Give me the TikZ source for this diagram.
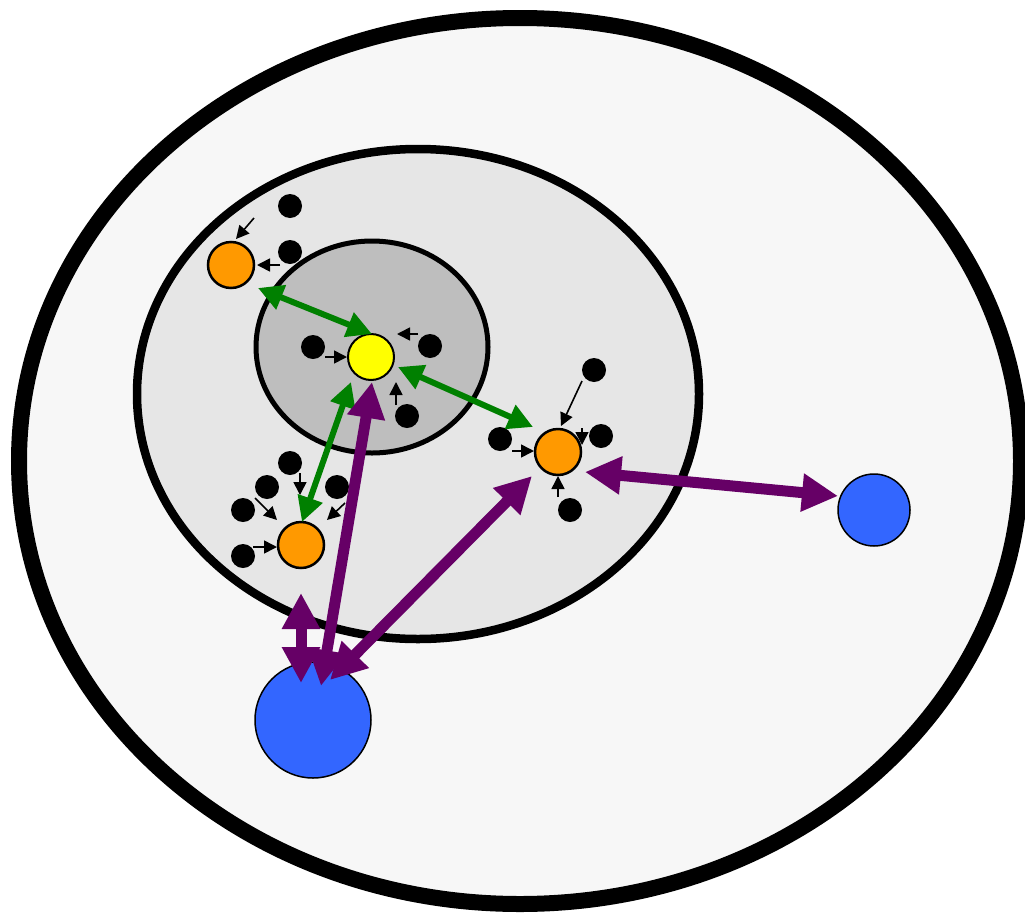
\documentclass[tikz,border=0pt]{standalone}
\usetikzlibrary{arrows.meta}
\definecolor{outerfill}{HTML}{F7F7F7}
\definecolor{midfill}{HTML}{E6E6E6}
\definecolor{innerfill}{HTML}{BEBEBE}
\definecolor{myyellow}{HTML}{FFFF00}
\definecolor{myorange}{HTML}{FF9900}
\definecolor{myblue}{HTML}{3366FF}
\definecolor{mypurple}{HTML}{660066}
\definecolor{mygreen}{HTML}{008000}
\tikzset{
  dot/.style={circle,fill=black,minimum size=24pt,inner sep=0pt},
  orangenode/.style={circle,draw=black,line width=2.5pt,fill=myorange,minimum size=46pt,inner sep=0pt},
  yellownode/.style={circle,draw=black,line width=2pt,fill=myyellow,minimum size=46pt,inner sep=0pt},
  bluenode/.style={circle,draw=black,line width=1.5pt,fill=myblue,inner sep=0pt},
  greenarrow/.style={draw=mygreen,line width=6pt,{Triangle[length=25pt,width=25pt]}-{Triangle[length=25pt,width=25pt]}},
  purparrow/.style={draw=mypurple,line width=11pt,{Triangle[length=36pt,width=36pt]}-{Triangle[length=36pt,width=36pt]}},
  smallarrow/.style={draw=black,line width=1.6pt,-{Triangle[length=13pt,width=13pt]}}
}
\begin{document}
\begin{tikzpicture}[x=1pt,y=-1pt]
\useasboundingbox (0,0) rectangle (1025,913);
\fill[white] (0,0) rectangle (1025,913);
% ellipses
\draw[line width=16pt,fill=outerfill] (520,461) ellipse [x radius=501pt, y radius=443pt];
\draw[line width=8.5pt,fill=midfill] (418,394) ellipse [x radius=281pt, y radius=245pt];
\draw[line width=5pt,fill=innerfill] (372,347) ellipse [x radius=116pt, y radius=106pt];
% nodes
\node[yellownode] (yellow) at (371,357) {};
\node[orangenode] (orTL) at (231,265) {};
\node[orangenode] (orR) at (558,452) {};
\node[orangenode] (orBL) at (301,545) {};
\node[bluenode,minimum size=72pt] (blueS) at (874,510) {};
\node[bluenode,minimum size=116pt] (blueB) at (313,720) {};
% black dots
\node[dot] (d1) at (290,206) {};
\node[dot] (d2) at (290,252) {};
\node[dot] (d3) at (313,347) {};
\node[dot] (d4) at (430,346) {};
\node[dot] (d5) at (407,416) {};
\node[dot] (d6) at (594,370) {};
\node[dot] (d7) at (601,436) {};
\node[dot] (d8) at (500,439) {};
\node[dot] (d9) at (570,510) {};
\node[dot] (d10) at (290,463) {};
\node[dot] (d11) at (267,487) {};
\node[dot] (d12) at (337,487) {};
\node[dot] (d13) at (243,510) {};
\node[dot] (d14) at (243,556) {};
% small arrows
\draw[smallarrow] ([shift={(23,-47)}]orTL.center) -- ([shift={(5,-26)}]orTL.center);
\draw[smallarrow] ([shift={(49,0)}]orTL.center) -- ([shift={(26,0)}]orTL.center);
\draw[smallarrow] ([shift={(-46,0)}]yellow.center) -- ([shift={(-24,0)}]yellow.center);
\draw[smallarrow] ([shift={(47,-23)}]yellow.center) -- ([shift={(26,-23)}]yellow.center);
\draw[smallarrow] ([shift={(25,48)}]yellow.center) -- ([shift={(25,25)}]yellow.center);
\draw[smallarrow] ([shift={(24,-71)}]orR.center) -- ([shift={(3,-26)}]orR.center);
\draw[smallarrow] ([shift={(24,-24)}]orR.center) -- ([shift={(24,-7)}]orR.center);
\draw[smallarrow] ([shift={(-46,-1)}]orR.center) -- ([shift={(-24,-1)}]orR.center);
\draw[smallarrow] ([shift={(0,45)}]orR.center) -- ([shift={(0,24)}]orR.center);
\draw[smallarrow] ([shift={(-1,-72)}]orBL.center) -- ([shift={(-1,-50)}]orBL.center);
\draw[smallarrow] ([shift={(-46,-47)}]orBL.center) -- ([shift={(-24,-25)}]orBL.center);
\draw[smallarrow] ([shift={(44,-42)}]orBL.center) -- ([shift={(26,-25)}]orBL.center);
\draw[smallarrow] ([shift={(-48,2)}]orBL.center) -- ([shift={(-24,2)}]orBL.center);
% green arrows
\draw[greenarrow] ([shift={(27,23)}]orTL.center) -- ([shift={(1,-23)}]yellow.center);
\draw[greenarrow] ([shift={(27,10)}]yellow.center) -- ([shift={(-25,-25)}]orR.center);
\draw[greenarrow] ([shift={(-20,25)}]yellow.center) -- ([shift={(1,-23)}]orBL.center);
% purple arrows
\draw[purparrow] ([shift={(27,20)}]orR.center) -- ([shift={(-36,-14)}]blueS.center);
\draw[purparrow] ([shift={(8,-34)}]blueB.center) -- ([shift={(1,25)}]yellow.center);
\draw[purparrow] ([shift={(17,-40)}]blueB.center) -- ([shift={(-26,24)}]orR.center);
\draw[purparrow] ([shift={(0,48)}]orBL.center) -- ([shift={(0,138)}]orBL.center);
\end{tikzpicture}
\end{document}
